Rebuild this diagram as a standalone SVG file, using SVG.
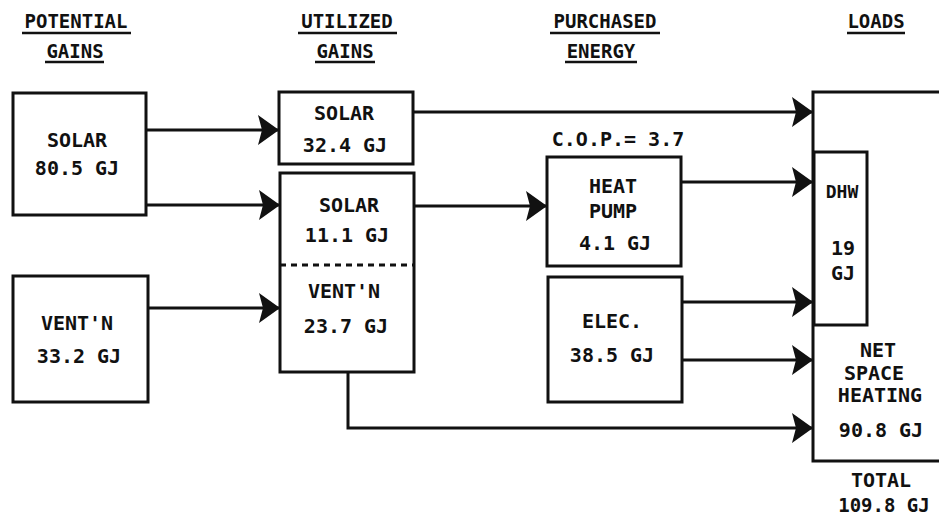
<svg xmlns="http://www.w3.org/2000/svg" width="939" height="516" viewBox="0 0 939 516">
<style>
.t{font-family:"DejaVu Sans Mono","Liberation Mono",monospace;font-weight:bold;font-size:20px;fill:#111;text-anchor:middle}
.h{font-family:"DejaVu Sans Mono","Liberation Mono",monospace;font-weight:bold;font-size:19px;fill:#111;text-anchor:middle}
.box{fill:#fff;stroke:#111;stroke-width:3}
.ul{stroke:#111;stroke-width:2.5}
.c{fill:none;stroke:#111;stroke-width:3}
</style>
<defs>
<marker id="ah" markerUnits="userSpaceOnUse" markerWidth="24" markerHeight="32" refX="22" refY="16" orient="auto" viewBox="0 0 24 32">
<path d="M22,16 L1,1 L5,16 L1,31 Z" fill="#111"/>
</marker>
</defs>
<rect width="939" height="516" fill="#fff"/>
<g id="headers">
<text class="h" x="76" y="28">POTENTIAL</text>
<line class="ul" x1="22" y1="33" x2="131" y2="33"/>
<text class="h" x="75" y="58">GAINS</text>
<line class="ul" x1="45" y1="62" x2="104" y2="62"/>
<text class="h" x="347" y="28">UTILIZED</text>
<line class="ul" x1="298" y1="33" x2="397" y2="33"/>
<text class="h" x="345" y="58">GAINS</text>
<line class="ul" x1="315" y1="62" x2="375" y2="62"/>
<text class="h" x="605" y="28">PURCHASED</text>
<line class="ul" x1="550" y1="33" x2="660" y2="33"/>
<text class="h" x="601" y="58">ENERGY</text>
<line class="ul" x1="565" y1="62" x2="637" y2="62"/>
<text class="h" x="876" y="28">LOADS</text>
<line class="ul" x1="847" y1="33" x2="905" y2="33"/>
</g>
<g id="connectors">
<line class="c" x1="146" y1="130" x2="279" y2="130" marker-end="url(#ah)"/>
<line class="c" x1="146" y1="205" x2="280" y2="205" marker-end="url(#ah)"/>
<line class="c" x1="148" y1="308" x2="280" y2="308" marker-end="url(#ah)"/>
<line class="c" x1="413" y1="112" x2="813" y2="112" marker-end="url(#ah)"/>
<line class="c" x1="414" y1="206" x2="547" y2="206" marker-end="url(#ah)"/>
<line class="c" x1="681" y1="182" x2="813" y2="182" marker-end="url(#ah)"/>
<line class="c" x1="682" y1="302" x2="813" y2="302" marker-end="url(#ah)"/>
<line class="c" x1="682" y1="360" x2="813" y2="360" marker-end="url(#ah)"/>
<polyline class="c" points="348,372 348,428 813,428" marker-end="url(#ah)"/>
</g>
<g id="solar-potential">
<rect class="box" x="13" y="93" width="133" height="122"/>
<text class="t" x="77" y="147">SOLAR</text>
<text class="t" x="77" y="175">80.5 GJ</text>
</g>
<g id="vent-potential">
<rect class="box" x="13" y="276" width="135" height="126"/>
<text class="t" x="77" y="330">VENT'N</text>
<text class="t" x="79" y="363">33.2 GJ</text>
</g>
<g id="solar-utilized-direct">
<rect class="box" x="279" y="92" width="134" height="72"/>
<text class="t" x="344" y="120">SOLAR</text>
<text class="t" x="345" y="152">32.4 GJ</text>
</g>
<g id="utilized-hp-source">
<rect class="box" x="280" y="173" width="134" height="199"/>
<line x1="280" y1="265" x2="414" y2="265" stroke="#111" stroke-width="3" stroke-dasharray="6,5"/>
<text class="t" x="349" y="212">SOLAR</text>
<text class="t" x="347" y="242">11.1 GJ</text>
<text class="t" x="344" y="298">VENT'N</text>
<text class="t" x="346" y="333">23.7 GJ</text>
</g>
<g id="heat-pump">
<text class="t" x="618" y="146">C.O.P.= 3.7</text>
<rect class="box" x="547" y="157" width="134" height="109"/>
<text class="t" x="613" y="193">HEAT</text>
<text class="t" x="613" y="218">PUMP</text>
<text class="t" x="615" y="250">4.1 GJ</text>
</g>
<g id="elec">
<rect class="box" x="548" y="277" width="134" height="125"/>
<text class="t" x="612" y="328">ELEC.</text>
<text class="t" x="612" y="362">38.5 GJ</text>
</g>
<g id="loads">
<rect class="box" x="813" y="92" width="140" height="369"/>
<text class="t" x="878" y="357">NET</text>
<text class="t" x="874" y="380">SPACE</text>
<text class="t" x="880" y="402">HEATING</text>
<text class="t" x="881" y="437">90.8 GJ</text>
<text class="t" x="881" y="487">TOTAL</text>
<text class="t" x="884" y="512" style="font-size:19px">109.8 GJ</text>
</g>
<g id="dhw">
<rect class="box" x="814" y="152" width="53" height="173"/>
<text class="t" x="842" y="198" style="font-size:18px">DHW</text>
<text class="t" x="843" y="255">19</text>
<text class="t" x="843" y="280">GJ</text>
</g>
</svg>
